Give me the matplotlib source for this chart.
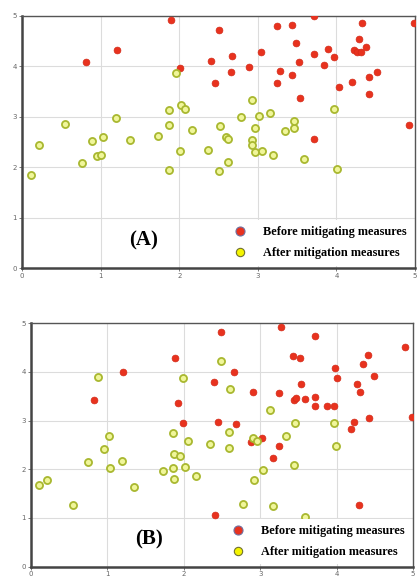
import matplotlib.pyplot as plt
from matplotlib.lines import Line2D

# panel A
a_before_x = [1.89, 1.21, 0.82, 2.01, 2.50, 2.41, 2.45, 2.66, 2.67, 2.89, 3.04, 3.25,
              3.43, 3.72, 3.48, 3.28, 3.24, 3.44, 3.53, 3.54, 3.72, 3.84, 3.89, 3.97,
              4.03, 4.20, 4.22, 4.26, 4.31, 4.38, 4.29, 4.32, 4.51, 4.42, 4.42, 4.99,
              4.92, 3.72]
a_before_y = [4.91, 4.33, 4.08, 3.96, 4.71, 4.10, 3.67, 3.88, 4.21, 3.98, 4.29, 4.79,
              4.82, 5.00, 4.46, 3.90, 3.67, 3.83, 4.08, 3.38, 4.25, 4.02, 4.35, 4.19,
              3.58, 3.68, 4.32, 4.29, 4.28, 4.39, 4.54, 4.86, 3.88, 3.78, 3.45, 4.86,
              2.83, 2.56]
a_after_x = [0.11, 0.21, 0.55, 0.76, 0.89, 0.96, 1.01, 1.03, 1.19, 1.37, 1.73, 1.87,
             1.87, 1.87, 1.96, 2.02, 2.08, 2.01, 2.16, 2.37, 2.92, 2.78, 3.02, 3.16,
             2.52, 2.59, 2.62, 2.97, 2.92, 2.92, 2.97, 3.05, 3.19, 3.34, 3.46, 3.46,
             3.59, 3.97, 4.01, 2.62, 2.50]
a_after_y = [1.85, 2.43, 2.86, 2.09, 2.52, 2.23, 2.25, 2.59, 2.98, 2.54, 2.62, 1.95,
             2.84, 3.13, 3.86, 3.23, 3.15, 2.33, 2.74, 2.35, 3.34, 2.99, 3.02, 3.08,
             2.82, 2.59, 2.55, 2.78, 2.54, 2.44, 2.30, 2.33, 2.24, 2.72, 2.78, 2.91,
             2.16, 3.15, 1.97, 2.10, 1.93]

# panel B
b_before_x = [1.88, 1.21, 0.82, 1.92, 1.99, 2.49, 3.27, 3.71, 2.65, 2.40, 2.91, 3.24,
              3.43, 3.52, 3.53, 3.44, 3.47, 3.58, 3.71, 3.71, 3.87, 3.96, 3.98, 4.01,
              4.27, 4.30, 4.34, 4.41, 4.49, 4.90, 4.98, 4.42, 4.22, 4.19, 2.45, 2.68,
              3.02, 2.88, 3.24, 3.16, 4.29, 2.41]
b_before_y = [4.28, 4.00, 3.42, 3.35, 2.94, 4.82, 4.93, 4.74, 3.99, 3.79, 3.59, 3.56,
              4.32, 4.28, 3.74, 3.43, 3.46, 3.45, 3.48, 3.30, 3.29, 3.30, 4.07, 3.87,
              3.76, 3.59, 4.16, 4.34, 3.92, 4.50, 3.08, 3.05, 2.97, 2.83, 2.96, 2.92,
              2.65, 2.55, 2.47, 2.24, 1.26, 1.05]
b_after_x = [0.11, 0.21, 0.55, 0.75, 0.88, 0.96, 1.02, 1.03, 1.19, 1.35, 1.73, 1.86,
             1.87, 1.95, 1.86, 1.87, 1.99, 2.01, 2.06, 2.16, 2.34, 2.49, 2.60, 3.13,
             3.45, 3.97, 2.59, 2.59, 2.90, 2.96, 3.33, 3.99, 3.03, 3.44, 2.92, 2.77,
             3.17, 3.59, 2.51]
b_after_y = [1.67, 1.78, 1.27, 2.15, 3.89, 2.42, 2.69, 2.02, 2.16, 1.63, 1.97, 2.75,
             2.31, 2.27, 2.02, 1.80, 3.88, 2.04, 2.57, 1.86, 2.52, 4.22, 3.65, 3.21,
             2.95, 2.95, 2.77, 2.43, 2.65, 2.57, 2.69, 2.47, 1.98, 2.09, 1.77, 1.28,
             1.25, 1.01, 0.84]

label_before = "Before mitigating measures"
label_after = "After mitigation measures"

RED = "#e8321e"
RED_EDGE = "#d42a18"
YEL_FACE = "#f0f69a"
YEL_EDGE = "#a9b830"

fig = plt.figure(figsize=(4.19, 5.77), dpi=100)

panels = [
    ([0.0525, 0.5355, 0.938, 0.437], a_before_x, a_before_y, a_after_x, a_after_y, "(A)"),
    ([0.074, 0.018, 0.912, 0.422], b_before_x, b_before_y, b_after_x, b_after_y, "(B)"),
]

for rect, bx, by, ax_, ay_, tag in panels:
    ax = fig.add_axes(rect)
    ax.scatter(bx, by, s=24, color=RED, edgecolors=RED_EDGE, linewidths=0.5, zorder=3)
    ax.scatter(ax_, ay_, s=26, color=YEL_FACE, edgecolors=YEL_EDGE, linewidths=1.3, zorder=3)
    ax.set_xlim(0, 5)
    ax.set_ylim(0, 5)
    ax.set_xticks(range(6))
    ax.set_yticks(range(6))
    ax.grid(True, color="#dcdcdc", linewidth=0.8)
    ax.set_axisbelow(True)
    ax.tick_params(labelsize=5, colors="#666666", length=2, width=0.6, pad=1.5)
    for side in ["left", "bottom"]:
        ax.spines[side].set_linewidth(1.8)
        ax.spines[side].set_color("#444444")
    for side in ["top", "right"]:
        ax.spines[side].set_linewidth(1.0)
        ax.spines[side].set_color("#555555")

    ax.text(1.55, 0.55, tag, fontsize=15, fontweight="bold",
            family="Liberation Serif", ha="center", va="center")

    handles = [
        Line2D([], [], marker="o", linestyle="", markersize=6.5,
               markerfacecolor=RED, markeredgecolor="#7070a0", markeredgewidth=0.8),
        Line2D([], [], marker="o", linestyle="", markersize=6,
               markerfacecolor="#f4f400", markeredgecolor="#707030", markeredgewidth=0.8),
    ]
    leg = ax.legend(handles, [label_before, label_after], loc="lower right",
                    prop={"family": "Liberation Serif", "weight": "bold", "size": 8.8},
                    frameon=True, framealpha=1, edgecolor="white",
                    borderaxespad=0.2, labelspacing=0.75, handletextpad=0.9,
                    borderpad=0.5)
    leg.get_frame().set_linewidth(0)
    leg.set_zorder(5)

fig.savefig("out.png", dpi=100)
